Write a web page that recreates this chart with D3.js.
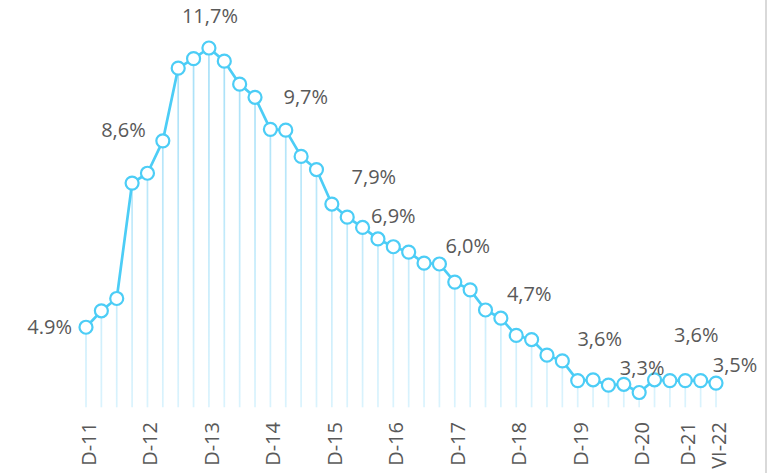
<!DOCTYPE html>
<html>
<head>
<meta charset="utf-8">
<script src="https://cdn.jsdelivr.net/npm/d3@7"></script>
<style>
  body { margin: 0; background: #fff; }
  svg text { font-family: "Open Sans", sans-serif; fill: #595959; }
</style>
</head>
<body>
<div id="chart"></div>
<script>
// quarterly rate, Dec-11 .. Jun-22
var values = [4.90, 5.30, 5.60, 8.41, 8.65, 9.44, 11.21, 11.44, 11.70, 11.38,
              10.82, 10.50, 9.72, 9.70, 9.06, 8.74, 7.90, 7.58, 7.33, 7.05,
              6.86, 6.73, 6.46, 6.44, 6.00, 5.81, 5.32, 5.12, 4.70, 4.60,
              4.22, 4.08, 3.60, 3.62, 3.49, 3.51, 3.31, 3.62, 3.60, 3.60,
              3.60, 3.54];

// axis labels and where they sit in the series
var tickIndex = [0, 4, 8, 12, 16, 20, 24, 28, 32, 36, 39, 41];
var tickLabels = ['D-11', 'D-12', 'D-13', 'D-14', 'D-15', 'D-16', 'D-17', 'D-18', 'D-19', 'D-20', 'D-21', 'VI-22'];

// value labels
var labelIndex = [0, 4, 8, 13, 16, 20, 24, 28, 32, 36, 39, 41];
var labelText = ['4.9%', '8,6%', '11,7%', '9,7%', '7,9%', '6,9%', '6,0%', '4,7%', '3,6%', '3,3%', '3,6%', '3,5%'];

// label offsets from the point (layout only)
var labelOffset = [[-14, 0, 'end'], [-24, -43], [1, -32], [20, -33], [42, -27], [0, -31],
                   [13, -36], [13, -41], [22, -42], [3, -25], [11, -46], [19, -18]];

var W = 779, H = 473;
var blue = '#4ccdf6';

var svg = d3.select('#chart').append('svg')
    .attr('width', W)
    .attr('height', H);

var x = d3.scalePoint()
    .domain(d3.range(values.length))
    .range([86, 716]);

var y = d3.scaleLinear()
    .domain([2.95, 11.8])
    .range([407.3, 43.9]);

var grad = svg.append('defs').append('linearGradient')
    .attr('id', 'drop')
    .attr('gradientUnits', 'userSpaceOnUse')
    .attr('x1', 0).attr('x2', 0)
    .attr('y1', y(11.7)).attr('y2', y(2.95));
grad.append('stop').attr('offset', '0%').attr('stop-color', '#a6e0f8');
grad.append('stop').attr('offset', '100%').attr('stop-color', '#daf3fd');

// right frame line
svg.append('line')
    .attr('x1', 766).attr('x2', 766)
    .attr('y1', 0).attr('y2', H)
    .attr('stroke', '#d9d9d9')
    .attr('stroke-width', 2);

// drop lines
svg.append('g').selectAll('line')
    .data(values)
    .enter().append('line')
    .attr('x1', function(d, i) { return x(i); })
    .attr('x2', function(d, i) { return x(i); })
    .attr('y1', function(d) { return y(d); })
    .attr('y2', y(2.95))
    .attr('stroke', 'url(#drop)')
    .attr('stroke-width', 1.7);

var line = d3.line()
    .x(function(d, i) { return x(i); })
    .y(function(d) { return y(d); });

svg.append('path')
    .datum(values)
    .attr('d', line)
    .attr('fill', 'none')
    .attr('stroke', blue)
    .attr('stroke-width', 2.7)
    .attr('stroke-linejoin', 'round');

svg.append('g').selectAll('circle')
    .data(values)
    .enter().append('circle')
    .attr('cx', function(d, i) { return x(i); })
    .attr('cy', function(d) { return y(d); })
    .attr('r', 6.5)
    .attr('fill', '#fff')
    .attr('stroke', blue)
    .attr('stroke-width', 2.2);

// value labels
svg.append('g').selectAll('text')
    .data(labelIndex)
    .enter().append('text')
    .attr('x', function(d, k) { return x(d) + labelOffset[k][0]; })
    .attr('y', function(d, k) { return y(values[d]) + labelOffset[k][1]; })
    .attr('dy', '0.35em')
    .attr('text-anchor', function(d, k) { return labelOffset[k][2] || 'middle'; })
    .style('font-size', '20px')
    .text(function(d, k) { return labelText[k]; });

// category labels, rotated
svg.append('g').selectAll('text')
    .data(tickIndex)
    .enter().append('text')
    .attr('transform', function(d) { return 'translate(' + (x(d) + 3) + ',422) rotate(-90)'; })
    .attr('dy', '0.35em')
    .attr('text-anchor', 'end')
    .style('font-size', '20px')
    .text(function(d, k) { return tickLabels[k]; });
</script>
</body>
</html>
